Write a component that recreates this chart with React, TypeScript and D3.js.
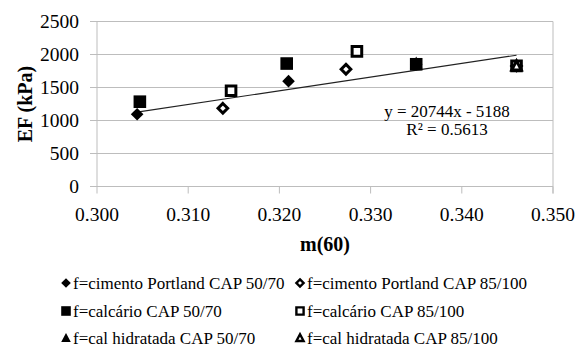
import React from "react";
import * as d3 from "d3";

// Dados: m(60) × EF (kPa) por tipo de fíler e ligante
const cimento5070: [number, number][] = [[0.3044, 1095], [0.3210, 1596], [0.3350, 1852]];
const cimento85100: [number, number][] = [[0.3138, 1185], [0.3273, 1777], [0.3460, 1827]];
const calcario5070: [number, number][] = [[0.3047, 1285], [0.3208, 1863], [0.3350, 1852]];
const calcario85100: [number, number][] = [[0.3147, 1450], [0.3285, 2048], [0.3460, 1827]];
const cal5070: [number, number][] = [[0.3350, 1868]];
const cal85100: [number, number][] = [[0.3460, 1827]];

const seriesNames = [
  "f=cimento Portland CAP 50/70",
  "f=cimento Portland CAP 85/100",
  "f=calcário CAP 50/70",
  "f=calcário CAP 85/100",
  "f=cal hidratada CAP 50/70",
  "f=cal hidratada CAP 85/100",
];
const seriesData = [cimento5070, cimento85100, calcario5070, calcario85100, cal5070, cal85100];
type Shape = "diamond" | "square" | "triangle";
const seriesShape: Shape[] = ["diamond", "diamond", "square", "square", "triangle", "triangle"];
const seriesFilled = [true, false, true, false, true, false];

const xTicks = [0.3, 0.31, 0.32, 0.33, 0.34, 0.35];
const yTicks = [0, 500, 1000, 1500, 2000, 2500];

// Linha de tendência linear
const slope = 20744;
const intercept = -5188;
const eqLabel = "y = 20744x - 5188";
const r2Label = "R² = 0.5613";

const W = 582;
const H = 354;
const plot = { left: 97, right: 553, top: 21.5, bottom: 186.5 };
const FONT = "'Liberation Serif', 'Times New Roman', serif";
const GRID = "#bdbdbd";

function markerPath(shape: Shape, r: number): string {
  if (shape === "diamond") return `M0,${-r}L${r},0L0,${r}L${-r},0Z`;
  if (shape === "square") return `M${-r},${-r}H${r}V${r}H${-r}Z`;
  return `M0,${-r * 1.05}L${r},${r * 0.85}L${-r},${r * 0.85}Z`;
}

function Marker({ shape, filled, r, sw }: { shape: Shape; filled: boolean; r: number; sw: number }) {
  if (filled) return <path d={markerPath(shape, r)} fill="#000" />;
  return (
    <path
      d={markerPath(shape, r - sw / 2)}
      fill="#fff"
      stroke="#000"
      strokeWidth={sw}
      strokeLinejoin="miter"
    />
  );
}

export default function App() {
  const x = d3.scaleLinear().domain([0.3, 0.35]).range([plot.left, plot.right]);
  const y = d3.scaleLinear().domain([0, 2500]).range([plot.bottom, plot.top]);

  const allX = seriesData.flat().map((d) => d[0]);
  const [xMin, xMax] = d3.extent(allX) as [number, number];
  const trend = d3
    .line<number>()
    .x((v) => x(v))
    .y((v) => y(slope * v + intercept));

  const legendCols = [66, 300];
  const legendRows = [289, 317, 344];

  return (
    <svg
      width={W}
      height={H}
      style={{ position: "absolute", left: 0, top: 0, background: "#fff" }}
      fontFamily={FONT}
    >
      {/* grade horizontal e marcas do eixo Y */}
      {yTicks.map((t) => (
        <g key={t}>
          <line x1={plot.left - 7} x2={plot.right} y1={y(t)} y2={y(t)} stroke={GRID} strokeWidth={1} />
          <text x={79} y={y(t)} dy="0.35em" textAnchor="end" fontSize={19.5}>
            {t}
          </text>
        </g>
      ))}
      {/* eixos e borda */}
      <line x1={plot.left} x2={plot.left} y1={plot.top} y2={plot.bottom} stroke={GRID} />
      <line x1={plot.right} x2={plot.right} y1={plot.top} y2={plot.bottom + 7} stroke={GRID} />
      {xTicks.map((t) => (
        <g key={t}>
          <line x1={x(t)} x2={x(t)} y1={plot.bottom} y2={plot.bottom + 7} stroke={GRID} />
          <text x={x(t)} y={221} textAnchor="middle" fontSize={19.5}>
            {d3.format(".3f")(t)}
          </text>
        </g>
      ))}

      {/* títulos */}
      <text x={(plot.left + plot.right) / 2} y={251} textAnchor="middle" fontSize={20} fontWeight="bold">
        m(60)
      </text>
      <text
        transform={`translate(25,${(plot.top + plot.bottom) / 2}) rotate(-90)`}
        textAnchor="middle"
        dy="0.35em"
        fontSize={20}
        fontWeight="bold"
      >
        EF (kPa)
      </text>

      {/* tendência */}
      <path d={trend([xMin, xMax]) || ""} stroke="#222" strokeWidth={1.1} fill="none" />
      <text x={447} y={117} textAnchor="middle" fontSize={17}>
        {eqLabel}
      </text>
      <text x={447} y={135} textAnchor="middle" fontSize={17}>
        {r2Label}
      </text>

      {/* pontos */}
      {seriesData.map((s, i) =>
        s.map((d, j) => (
          <g key={`${i}-${j}`} transform={`translate(${x(d[0])},${y(d[1])})`}>
            <Marker shape={seriesShape[i]} filled={seriesFilled[i]} r={6.3} sw={3} />
          </g>
        ))
      )}

      {/* legenda */}
      {seriesNames.map((name, i) => {
        const cx = legendCols[i % 2];
        const by = legendRows[Math.floor(i / 2)];
        return (
          <g key={name}>
            <g transform={`translate(${cx},${by - 6})`}>
              <Marker shape={seriesShape[i]} filled={seriesFilled[i]} r={4.8} sw={2.4} />
            </g>
            <text x={cx + 7} y={by} fontSize={17}>
              {name}
            </text>
          </g>
        );
      })}
    </svg>
  );
}
